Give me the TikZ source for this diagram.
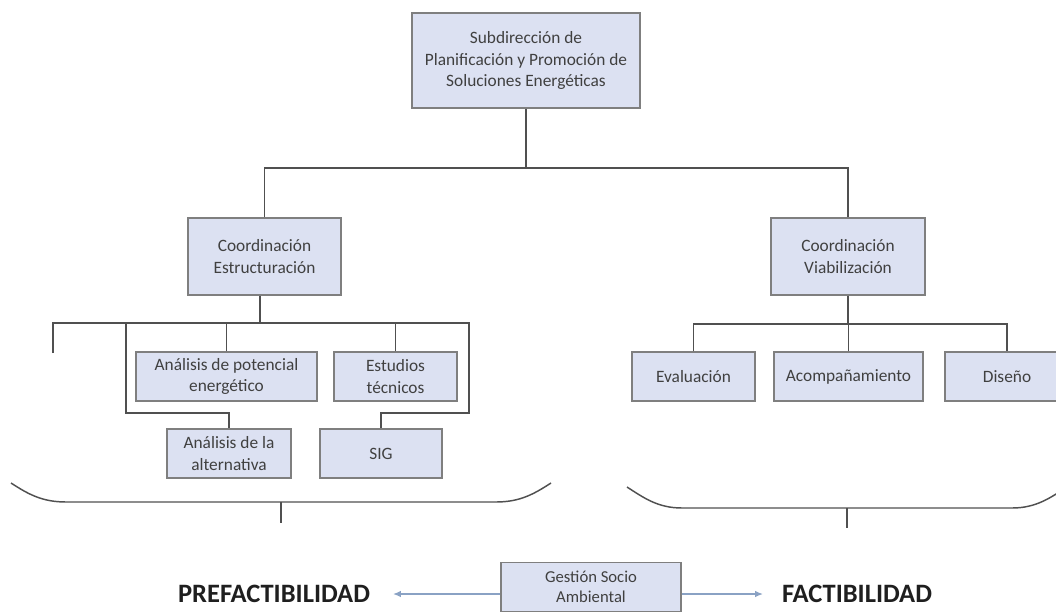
\documentclass[tikz,border=0pt]{standalone}
\usepackage{fontspec}
\setmainfont{Carlito}
\usepackage{xcolor}
\usepackage{tikz}
\usetikzlibrary{positioning, arrows.meta}
\definecolor{boxfill}{HTML}{DCE1F2}
\definecolor{boxline}{HTML}{7F7F7F}
\definecolor{linkline}{HTML}{505050}
\definecolor{boxtext}{HTML}{404040}
\definecolor{flowline}{HTML}{8AA2C4}

\begin{document}
\begin{tikzpicture}[x=0.75pt,y=-0.75pt,
                    box node/.style={draw=boxline,line width=1.1pt,fill=boxfill,text=boxtext,
                      font=\fontsize{13}{16.3}\selectfont,align=center,inner sep=0pt,
                      minimum height=36.75pt},
                    link/.style={draw=linkline,line width=1.1pt},
                    flow/.style={draw=flowline,line width=1.5pt,-{Latex[length=6pt,width=5pt]}},
                    stage/.style={font=\fontsize{19.9}{24}\selectfont\bfseries,text=black!88,inner sep=0pt}]

  \useasboundingbox (0,0) rectangle (1056,611);
  \clip (0,0) rectangle (1056,611);

  % top level
  \node[box node,minimum width=171pt,minimum height=71.25pt] (sub) at (526,60.5)
    {Subdirección de\\Planificación y Promoción de\\Soluciones Energéticas};
  \node[box node,minimum width=114.75pt,minimum height=57.75pt] (est) at (264.5,256.5)
    {Coordinación\\Estructuración};
  \node[box node,minimum width=115.5pt,minimum height=57.75pt] (via) at (848,256.5)
    {Coordinación\\Viabilización};

  % estructuracion
  \node[box node,minimum width=135.75pt] (pot) at (226.5,376.5) {Análisis de potencial\\energético};
  \node[box node,minimum width=92.25pt] (tec) at (395.5,376.5) {Estudios\\técnicos};
  \node[box node,minimum width=93pt] (alt) at (229,453.5) {Análisis de la\\alternativa};
  \node[box node,minimum width=91.5pt] (sig) at (381,453.5) {SIG};

  % viabilizacion
  \node[box node,minimum width=92.25pt] (eva) at (693.5,376.5) {Evaluación};
  \node[box node,minimum width=111.75pt] (aco) at (848.5,376.5) {Acompañamiento};
  \node[box node,minimum width=93pt] (dis) at (1007,376.5) {Diseño};

  % bottom
  \node[box node,minimum width=135pt,font=\fontsize{12.5}{15}\selectfont] (gsa) at (591,587)
    {Gestión Socio\\Ambiental};
  \node[stage] (pre) at (274,594) {PREFACTIBILIDAD};
  \node[stage] (fac) at (857,594) {FACTIBILIDAD};

  \coordinate (jn) at (526,168);
  \coordinate (ebar) at (260,323);
  \coordinate (el) at (53,323);
  \coordinate (eldrop) at (53,353);
  \coordinate (ealt) at (126,323);
  \coordinate (ealtb) at (126,413);
  \coordinate (er) at (469,323);
  \coordinate (ersig) at (469,413);
  \coordinate (vbar) at (848,324);

  \draw[link] (sub) -- (jn);
  \draw[link] (est.north) |- (jn) -| (via.north);

  \draw[link] (eldrop) -- (el) -- (er) -- (ersig) -| (sig.north);
  \draw[link] (ealt) -- (ealtb) -| (alt.north);
  \path[link]
    (est.south -| ebar) edge (ebar)
    (pot.north) edge (pot.north |- el)
    (tec.north) edge (tec.north |- el);

  \draw[link] (via.south) -- (vbar);
  \draw[link] (eva.north) |- (vbar) -| (dis.north);
  \path[link] (aco.north) edge (aco.north |- vbar);

  % braces
  \coordinate (lb1) at (11,483);
  \coordinate (lb2) at (551,483);
  \coordinate (lbt) at (281,502);
  \coordinate (lbe) at (281,523);
  \draw[link] (lb1) .. controls (28,494) and (42,502) .. (66,502) -- (496,502)
    .. controls (520,502) and (534,494) .. (lb2);
  \path[link] (lbt) edge (lbe);

  \coordinate (rb1) at (627,487);
  \coordinate (rb2) at (1067,487);
  \coordinate (rbt) at (847,508);
  \coordinate (rbe) at (847,528);
  \draw[link] (rb1) .. controls (644,498) and (658,508) .. (682,508) -- (1012,508)
    .. controls (1036,508) and (1050,498) .. (rb2);
  \path[link] (rbt) edge (rbe);

  \draw[flow,shorten >=17pt] (gsa.west |- pre) -- (pre.east);
  \draw[flow,shorten >=14pt] (gsa.east |- fac) -- (fac.west);

\end{tikzpicture}
\end{document}
